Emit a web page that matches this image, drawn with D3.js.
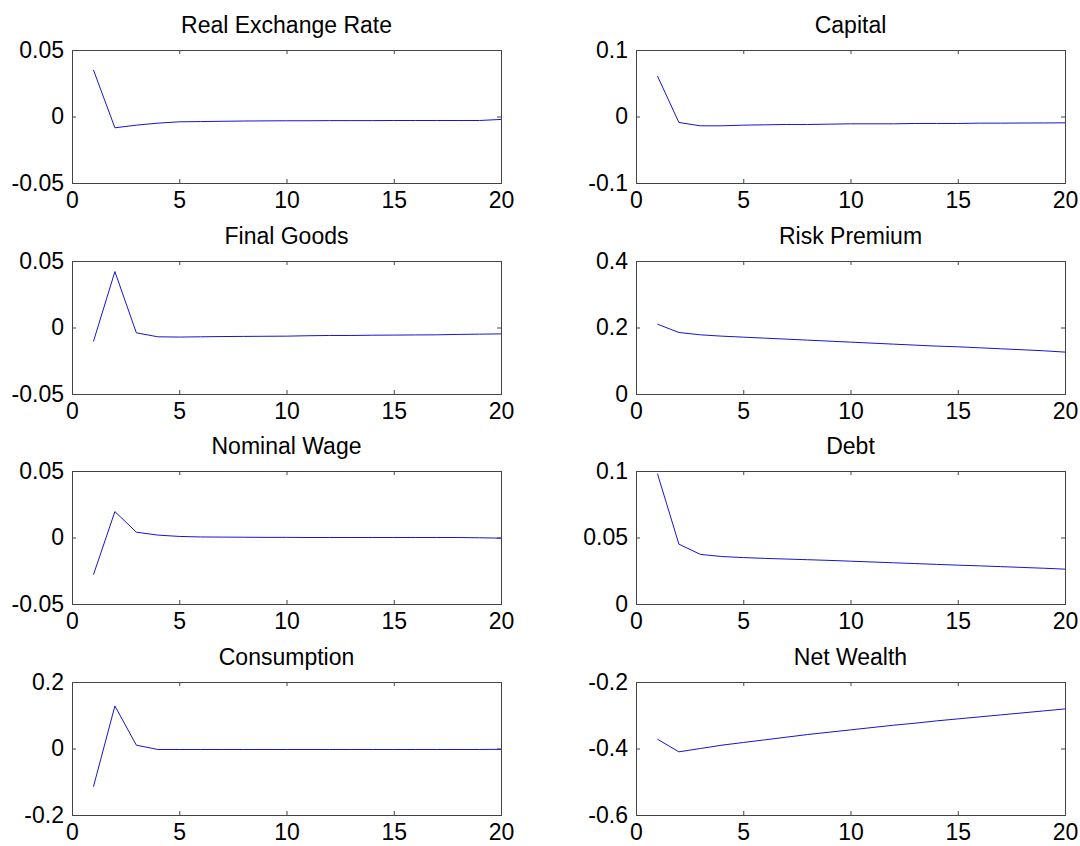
<!DOCTYPE html>
<html>
<head>
<meta charset="utf-8">
<script src="https://cdn.jsdelivr.net/npm/d3@7"></script>
<style>
  body { margin: 0; background: #fff; }
  svg { display: block; }
  text { font-family: Arial, "Liberation Sans", sans-serif; fill: #000; }
</style>
</head>
<body>
<div id="chart"></div>
<script>
// horizon, periods 1..20
const periods = d3.range(1, 21);

const titles = [
  "Real Exchange Rate", "Capital",
  "Final Goods", "Risk Premium",
  "Nominal Wage", "Debt",
  "Consumption", "Net Wealth"
];

const yDomains = [
  [-0.05, 0.05], [-0.1, 0.1],
  [-0.05, 0.05], [0, 0.4],
  [-0.05, 0.05], [0, 0.1],
  [-0.2, 0.2], [-0.6, -0.2]
];

const yTickLabels = [
  ["-0.05", "0", "0.05"], ["-0.1", "0", "0.1"],
  ["-0.05", "0", "0.05"], ["0", "0.2", "0.4"],
  ["-0.05", "0", "0.05"], ["0", "0.05", "0.1"],
  ["-0.2", "0", "0.2"], ["-0.6", "-0.4", "-0.2"]
];

const xTicks = [0, 5, 10, 15, 20];

const realExchangeRate = [0.035, -0.0085, -0.0065, -0.005, -0.004, -0.0038, -0.0036, -0.0034, -0.0033, -0.0032,
  -0.0032, -0.0031, -0.0031, -0.0031, -0.003, -0.003, -0.003, -0.003, -0.003, -0.0022];
const capital = [0.061, -0.009, -0.014, -0.014, -0.013, -0.0125, -0.012, -0.012, -0.0115, -0.011,
  -0.011, -0.011, -0.0105, -0.0105, -0.0105, -0.010, -0.010, -0.0098, -0.0097, -0.0095];
const finalGoods = [-0.0105, 0.042, -0.004, -0.007, -0.0072, -0.007, -0.0068, -0.0067, -0.0066, -0.0065,
  -0.0062, -0.006, -0.006, -0.0058, -0.0057, -0.0056, -0.0055, -0.0052, -0.005, -0.0048];
const riskPremium = [0.21, 0.185, 0.178, 0.174, 0.171, 0.168, 0.165, 0.162, 0.159, 0.156,
  0.153, 0.150, 0.147, 0.144, 0.142, 0.139, 0.136, 0.133, 0.130, 0.126];
const nominalWage = [-0.028, 0.0195, 0.004, 0.0018, 0.0008, 0.0004, 0.0003, 0.0002, 0.0001, 0.0001,
  0, 0, 0, 0, 0, 0, 0, 0, -0.0002, -0.0005];
const debt = [0.098, 0.045, 0.0373, 0.0357, 0.0349, 0.0343, 0.0338, 0.0333, 0.0328, 0.0322,
  0.0316, 0.0310, 0.0304, 0.0298, 0.0292, 0.0287, 0.0281, 0.0275, 0.0269, 0.0262];
const consumption = [-0.115, 0.128, 0.01, -0.003, -0.003, -0.003, -0.003, -0.003, -0.003, -0.003,
  -0.003, -0.003, -0.003, -0.003, -0.003, -0.003, -0.003, -0.003, -0.003, -0.0025];
const netWealth = [-0.372, -0.41, -0.4, -0.39, -0.382, -0.374, -0.366, -0.358, -0.351, -0.344,
  -0.337, -0.330, -0.324, -0.317, -0.311, -0.305, -0.299, -0.293, -0.287, -0.281];

const seriesList = [realExchangeRate, capital, finalGoods, riskPremium,
  nominalWage, debt, consumption, netWealth];

const width = 1080;
const height = 846;
const colLeft = [72, 636];
const rowTop = [50, 261, 471, 682];
const boxW = 429;
const boxH = 133;
const tickLen = 4;
const fontSize = 23;

const svg = d3.select("#chart")
  .append("svg")
  .attr("width", width)
  .attr("height", height);

seriesList.forEach((values, i) => {
  const col = i % 2;
  const row = Math.floor(i / 2);
  const g = svg.append("g")
    .attr("transform", `translate(${colLeft[col]},${rowTop[row]})`);

  const x = d3.scaleLinear().domain([0, 20]).range([0, boxW]);
  const y = d3.scaleLinear().domain(yDomains[i]).range([boxH, 0]);
  const yTicks = [yDomains[i][0], (yDomains[i][0] + yDomains[i][1]) / 2, yDomains[i][1]];

  // axes with inward ticks, mirrored on top / right like matlab
  const labelsY = yTickLabels[i];
  const bottom = d3.axisBottom(x).tickValues(xTicks).tickSize(-tickLen).tickPadding(9)
    .tickFormat(d3.format("d"));
  const top = d3.axisTop(x).tickValues(xTicks).tickSize(-tickLen).tickFormat("");
  const left = d3.axisLeft(y).tickValues(yTicks).tickSize(-tickLen).tickPadding(8)
    .tickFormat((d, k) => labelsY[k]);
  const right = d3.axisRight(y).tickValues(yTicks).tickSize(-tickLen).tickFormat("");

  const styleAxis = sel => {
    sel.select(".domain").remove();
    sel.selectAll(".tick line").attr("stroke", "#444");
    sel.selectAll(".tick text")
      .style("font-size", fontSize + "px")
      .attr("fill", "#000");
  };

  g.append("g").attr("transform", `translate(0,${boxH})`).call(bottom).call(styleAxis);
  g.append("g").call(top).call(styleAxis);
  g.append("g").call(left).call(styleAxis);
  g.append("g").attr("transform", `translate(${boxW},0)`).call(right).call(styleAxis);

  g.selectAll(".tick text").attr("font-family", null);

  g.append("rect")
    .attr("x", 0.5)
    .attr("y", 0.5)
    .attr("width", boxW)
    .attr("height", boxH)
    .attr("fill", "none")
    .attr("stroke", "#444")
    .attr("stroke-width", 1);

  const line = d3.line()
    .x((d, k) => x(periods[k]))
    .y(d => y(d));

  g.append("path")
    .datum(values)
    .attr("fill", "none")
    .attr("stroke", "#1515d0")
    .attr("stroke-width", 1)
    .attr("d", line);

  g.append("text")
    .attr("x", boxW / 2)
    .attr("y", -17)
    .attr("text-anchor", "middle")
    .style("font-size", fontSize + "px")
    .text(titles[i]);
});
</script>
</body>
</html>
